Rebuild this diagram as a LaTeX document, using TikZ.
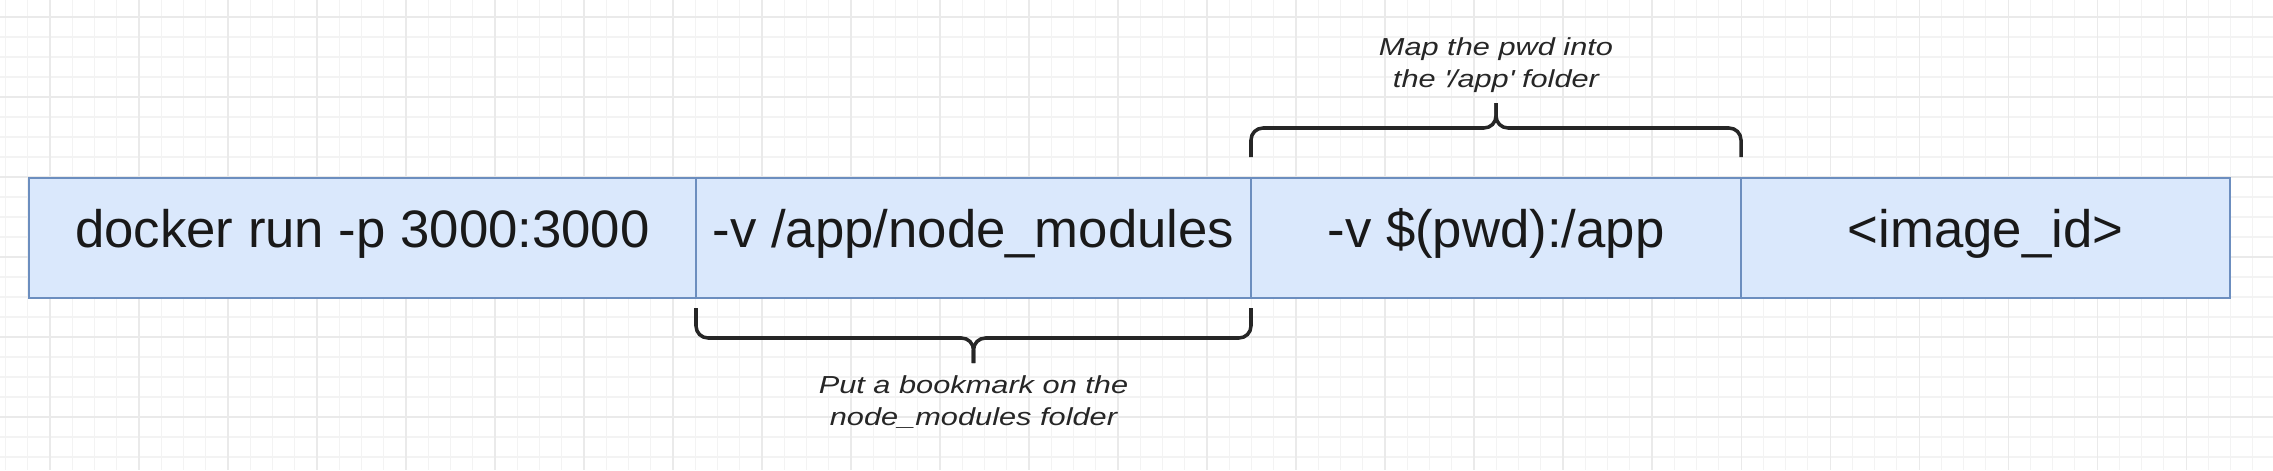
\documentclass[tikz,border=0pt]{standalone}
\usepackage{fontspec}
\setmainfont{Liberation Sans}
\newfontfamily\notefont[FakeStretch=1.25]{Liberation Sans}
\usetikzlibrary{positioning}
\definecolor{cellfill}{HTML}{DAE8FC}
\definecolor{celldraw}{HTML}{6C8EBF}
\definecolor{gridminor}{HTML}{F3F3F3}
\definecolor{gridmajor}{HTML}{EAEAEA}
\tikzset{
  cell/.style={draw=celldraw,fill=cellfill,line width=0.8pt,minimum height=12mm,inner sep=0pt,outer sep=0pt,
    text height=0.716em,text depth=0.15em,font=\fontsize{15pt}{18pt}\selectfont,text=black!90},
  bracket/.style={line width=1pt,rounded corners=1.2mm,black!85},
  note/.style={align=center,inner sep=0pt,font=\notefont\itshape\fontsize{7pt}{9.1pt}\selectfont,text=black!85}
}

\begin{document}
\begin{tikzpicture}[x=0.1mm,y=-0.1mm]
  \useasboundingbox[fill=white] (0,0) rectangle (2273,470);
  % grid
  \foreach \i in {0,...,102} \draw[gridminor,line width=0.3pt] ({5.5+22.25*\i},0) -- ++(0,470);
  \foreach \j in {0,...,22} \draw[gridminor,line width=0.3pt] (0,{17+20*\j}) -- ++(2273,0);
  \foreach \i in {0,...,25} \draw[gridmajor,line width=0.3pt] ({50+89*\i},0) -- ++(0,470);
  \foreach \j in {0,...,5} \draw[gridmajor,line width=0.3pt] (0,{17+80*\j}) -- ++(2273,0);

  \node[cell,minimum width=66.7mm,anchor=north west] (run) at (29,178) {docker run -p 3000:3000};
  \node[cell,minimum width=55.5mm,right=0pt of run] (bookmark) {-v /app/node\_modules};
  \node[cell,minimum width=49mm,right=0pt of bookmark] (pwd) {-v \$(pwd):/app};
  \node[cell,minimum width=48.9mm,right=0pt of pwd] (image) {<image\_id>};

  % braces
  \coordinate (pwdtip) at ([yshift=7.5mm]pwd.north);
  \draw[bracket] ([yshift=2.1mm]pwd.north west) |- ([yshift=5mm]pwd.north) -- (pwdtip);
  \draw[bracket] ([yshift=2.1mm]pwd.north east) |- ([yshift=5mm]pwd.north) -- (pwdtip);
  \coordinate (marktip) at ([yshift=-6.5mm]bookmark.south);
  \draw[bracket] ([yshift=-1mm]bookmark.south west) |- ([yshift=-4mm]bookmark.south) -- (marktip);
  \draw[bracket] ([yshift=-1mm]bookmark.south east) |- ([yshift=-4mm]bookmark.south) -- (marktip);

  \node[note,above=1mm of pwdtip] (pwdnote) {Map the pwd into\\the \textquotesingle/app\textquotesingle{} folder};
  \node[note,below=1.2mm of marktip] (marknote) {Put a bookmark on the\\node\_modules folder};
\end{tikzpicture}
\end{document}
